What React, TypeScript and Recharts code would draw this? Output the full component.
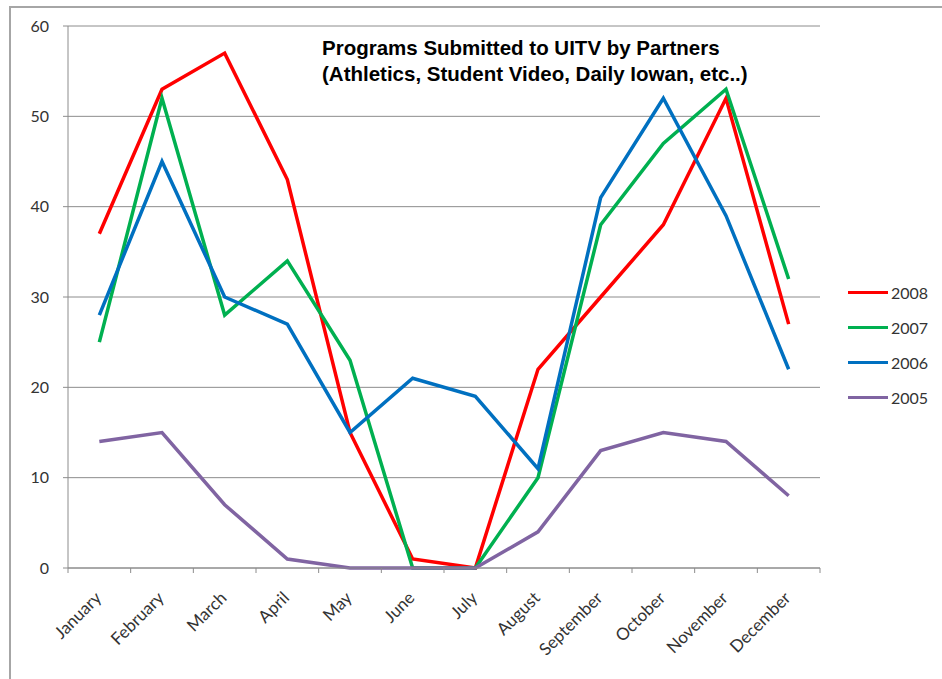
import React from "react";
import { LineChart, Line, XAxis, YAxis, CartesianGrid } from "recharts";

const months = [
  "January", "February", "March", "April", "May", "June",
  "July", "August", "September", "October", "November", "December",
];
const y2008 = [37, 53, 57, 43, 15, 1, 0, 22, 30, 38, 52, 27];
const y2007 = [25, 52, 28, 34, 23, 0, 0, 10, 38, 47, 53, 32];
const y2006 = [28, 45, 30, 27, 15, 21, 19, 11, 41, 52, 39, 22];
const y2005 = [14, 15, 7, 1, 0, 0, 0, 4, 13, 15, 14, 8];
const yTicks = [0, 10, 20, 30, 40, 50, 60];

const series = [
  { key: "2008", color: "#ff0000" },
  { key: "2007", color: "#00b050" },
  { key: "2006", color: "#0070c0" },
  { key: "2005", color: "#8064a2" },
];

const data = months.map((m, i) => ({
  month: m,
  "2008": y2008[i],
  "2007": y2007[i],
  "2006": y2006[i],
  "2005": y2005[i],
}));

const BAND = 752 / 12;
const AXIS_GRAY = "#8c8c8c";
const LABEL_FONT = "Lato, 'Open Sans', sans-serif";

function MonthTick(props: any) {
  const { x, y, payload, index } = props;
  const tx = x + 3;
  const ty = y + 31;
  return (
    <g>
      <line x1={x - BAND / 2} y1={y} x2={x - BAND / 2} y2={y + 5} stroke={AXIS_GRAY} />
      {index === months.length - 1 && (
        <line x1={x + BAND / 2} y1={y} x2={x + BAND / 2} y2={y + 5} stroke={AXIS_GRAY} />
      )}
      <text
        x={tx}
        y={ty}
        textAnchor="end"
        transform={`rotate(-45, ${tx}, ${ty})`}
        fontSize={17}
        fontFamily={LABEL_FONT}
        fill="#333"
      >
        {payload.value}
      </text>
    </g>
  );
}

export default function App() {
  return (
    <div style={{ position: "absolute", left: 0, top: 0, width: 942, height: 679, background: "#fff" }}>
      <div
        style={{
          position: "absolute",
          left: 9,
          top: 6,
          right: 0,
          bottom: 0,
          borderTop: "2px solid #a6a6a6",
          borderLeft: "2px solid #a6a6a6",
        }}
      />
      <LineChart
        width={942}
        height={679}
        data={data}
        margin={{ top: 26, right: 122, left: 8, bottom: 11 }}
        style={{ position: "absolute", left: 0, top: 0 }}
      >
        <CartesianGrid vertical={false} stroke={AXIS_GRAY} strokeWidth={1} />
        <XAxis
          dataKey="month"
          interval={0}
          padding={{ left: BAND / 2, right: BAND / 2 }}
          height={100}
          tickSize={0}
          tickMargin={0}
          axisLine={{ stroke: AXIS_GRAY }}
          tick={<MonthTick />}
        />
        <YAxis
          domain={[0, 60]}
          ticks={yTicks}
          width={60}
          tickSize={5}
          tickMargin={14}
          axisLine={{ stroke: AXIS_GRAY }}
          tickLine={{ stroke: AXIS_GRAY }}
          tick={{ fill: "#333", fontSize: 16, fontFamily: LABEL_FONT }}
        />
        {series.map((s) => (
          <Line
            key={s.key}
            type="linear"
            dataKey={s.key}
            stroke={s.color}
            strokeWidth={3.5}
            dot={false}
            isAnimationActive={false}
          />
        ))}
      </LineChart>
      <div style={{ position: "absolute", left: 848, top: 275 }}>
        {series.map((s) => (
          <div key={s.key} style={{ display: "flex", alignItems: "center", height: 35 }}>
            <div style={{ width: 40, height: 3, background: s.color, marginRight: 3 }} />
            <span style={{ fontFamily: LABEL_FONT, fontSize: 16, color: "#333" }}>{s.key}</span>
          </div>
        ))}
      </div>
      <div
        style={{
          position: "absolute",
          left: 322,
          top: 35,
          fontFamily: "'Liberation Sans', Arial, sans-serif",
          fontWeight: "bold",
          fontSize: 20.5,
          lineHeight: "26px",
          color: "#000",
          whiteSpace: "nowrap",
        }}
      >
        Programs Submitted to UITV by Partners
        <br />
        (Athletics, Student Video, Daily Iowan, etc..)
      </div>
    </div>
  );
}
